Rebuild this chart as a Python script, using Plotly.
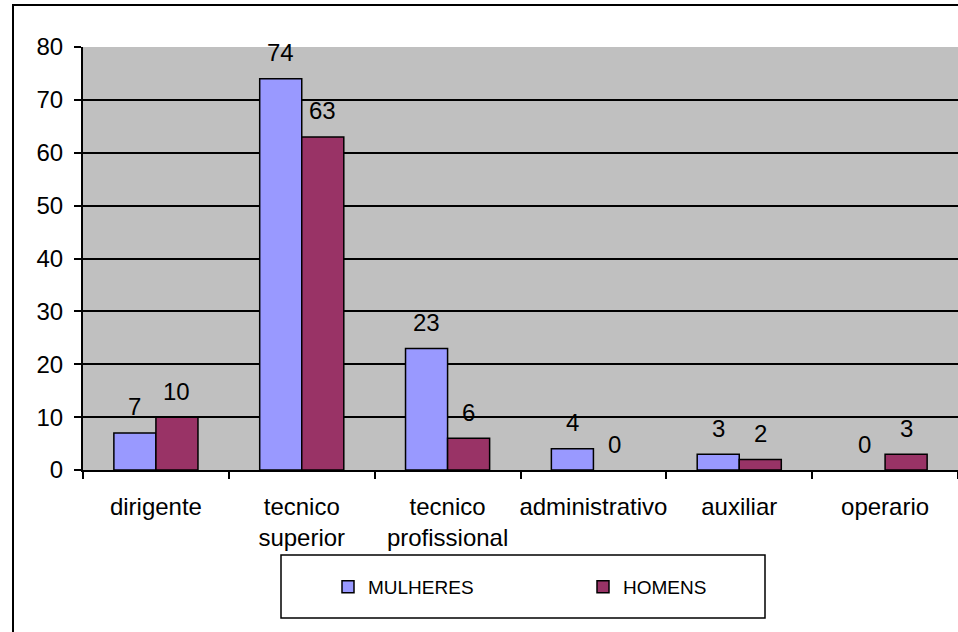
import plotly.graph_objects as go

# Staff by job category and sex
categories = ["dirigente", "tecnico<br>superior", "tecnico<br>profissional",
              "administrativo", "auxiliar", "operario"]
mulheres = [7, 74, 23, 4, 3, 0]
homens = [10, 63, 6, 0, 2, 3]
series_names = ["MULHERES", "HOMENS"]
series_colors = ["#9999FF", "#993366"]
y_ticks = [0, 10, 20, 30, 40, 50, 60, 70, 80]

W, H = 958, 632
M_L, M_R, M_T, M_B = 83, 0, 47, 162
plot_w = W - M_L - M_R
plot_h = H - M_T - M_B
BARGAP = 0.4233

FONT = "Liberation Sans, Arial, sans-serif"
TXT = 24


def px_x(px):
    return (px - M_L) / plot_w


def px_y(py):
    return (H - M_B - py) / plot_h


fig = go.Figure()
for name, vals, color in zip(series_names, [mulheres, homens], series_colors):
    fig.add_trace(go.Bar(
        x=categories, y=vals, name=name,
        marker=dict(color=color,
                    line=dict(color="black",
                              width=[1.5 if v > 0 else 0 for v in vals])),
    ))

# value labels above each bar
cat_px = plot_w / len(categories)
half_offset = cat_px * (1 - BARGAP) / 4
annotations = []
for k, vals in enumerate([mulheres, homens]):
    shift = -half_offset if k == 0 else half_offset
    for c, v in zip(categories, vals):
        annotations.append(dict(
            x=c, y=v, xref="x", yref="y", text=str(v), showarrow=False,
            xshift=shift, yshift=26, yanchor="middle",
            font=dict(family=FONT, size=TXT, color="black"),
        ))

shapes = [
    # outer chart frame
    dict(type="rect", xref="paper", yref="paper",
         x0=px_x(13), x1=px_x(W + 20), y0=px_y(H + 20), y1=px_y(5),
         line=dict(color="black", width=2), fillcolor="rgba(0,0,0,0)", layer="above"),
    # legend frame
    dict(type="rect", xref="paper", yref="paper",
         x0=px_x(281), x1=px_x(765), y0=px_y(618), y1=px_y(555),
         line=dict(color="black", width=1.5), fillcolor="white", layer="below"),
]

fig.update_layout(
    width=W, height=H, autosize=False,
    margin=dict(l=M_L, r=M_R, t=M_T, b=M_B, pad=0),
    paper_bgcolor="white", plot_bgcolor="#C0C0C0",
    barmode="group", bargap=BARGAP, bargroupgap=0,
    font=dict(family=FONT, size=TXT, color="black"),
    showlegend=True,
    legend=dict(
        orientation="h", x=px_x(328), xanchor="left",
        y=px_y(587), yanchor="middle",
        bgcolor="rgba(0,0,0,0)", borderwidth=0,
        font=dict(family=FONT, size=19, color="black"),
        entrywidth=210, entrywidthmode="pixels",
        traceorder="normal",
    ),
    annotations=annotations,
    shapes=shapes,
)

fig.update_xaxes(
    type="category", showline=True, linecolor="black", linewidth=2,
    ticks="outside", tickson="boundaries", ticklen=7, tickcolor="black", tickwidth=1.5,
    showgrid=False, ticklabelstandoff=14, tickangle=0, automargin=False,
    tickfont=dict(family=FONT, size=TXT, color="black"),
)
fig.update_yaxes(
    range=[0, 80], tickvals=y_ticks, showline=True, linecolor="black", linewidth=2,
    ticks="outside", ticklen=7, tickcolor="black", tickwidth=1.5,
    showgrid=True, gridcolor="black", gridwidth=1.5, zeroline=False,
    ticklabelstandoff=6, automargin=False,
    tickfont=dict(family=FONT, size=TXT, color="black"),
)

fig.write_html("out.html")
